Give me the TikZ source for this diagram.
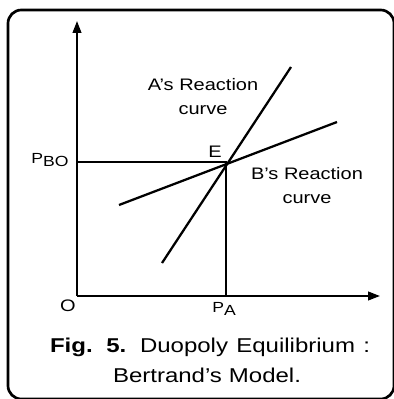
\documentclass[tikz,border=0pt]{standalone}
\usepackage{fontspec}
\setmainfont{Liberation Sans}[FakeStretch=1.2]
\usetikzlibrary{arrows.meta}
\newcommand{\sublow}[1]{\raisebox{-0.5ex}{#1}}

\begin{document}
\begin{tikzpicture}[x=0.75pt,y=-0.75pt,>={Triangle[length=9pt,width=6.5pt]},
  font=\fontsize{12.5}{18}\selectfont,
  axis/.style={line width=1.5pt},
  rcurve/.style={line width=1.7pt},
  lbl/.style={inner sep=0pt,align=center}]
\useasboundingbox (0,0) rectangle (393,399);
\draw[line width=2pt,rounded corners=10pt] (8,10) rectangle (394,399);
% axes
\coordinate (O) at (77,296);
\coordinate (ytip) at (77,21);
\coordinate (xtip) at (380,296);
\draw[axis,->] (O)--(ytip);
\draw[axis,->] (O)--(xtip);
% equilibrium
\coordinate (E) at (226,162);
\coordinate (pbo) at (77,162);
\coordinate (pa) at (226,296);
\draw[axis] (pbo)--(E)--(pa);
% reaction curves
\coordinate (a1) at (162,263);
\coordinate (a2) at (291,67);
\coordinate (b1) at (119,205);
\coordinate (b2) at (337,122);
\draw[rcurve] (a1)--(a2);
\draw[rcurve] (b1)--(b2);
% labels
\node[lbl] (alab) at (203,97) {A's Reaction\\curve};
\node[lbl] (blab) at (307,186) {B's Reaction\\curve};
\node[lbl] (elab) at (215,152) {E};
\node[lbl,font=\fontsize{11}{13}\selectfont] (pbolab) at (50,160) {P\sublow{BO}};
\node[lbl] (olab) at (68,306) {O};
\node[lbl,font=\fontsize{11}{13}\selectfont] (palab) at (224,309) {P\sublow{A}};
% caption
\node[lbl,font=\fontsize{15}{18}\selectfont,anchor=base] (cap1) at (210,352)
  {\makebox[240pt][s]{\textbf{Fig. 5.} Duopoly Equilibrium :}};
\node[lbl,font=\fontsize{15}{18}\selectfont,anchor=base] (cap2) at (207,382)
  {\makebox[141pt][s]{Bertrand's Model.}};
\end{tikzpicture}
\end{document}
